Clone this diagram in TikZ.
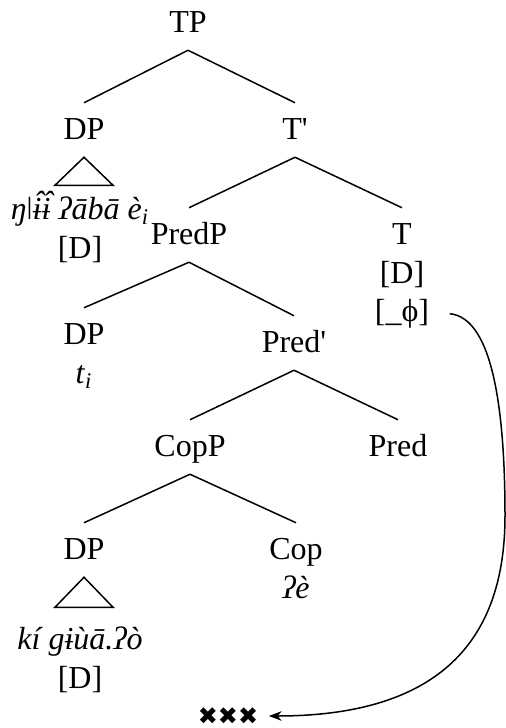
\documentclass[tikz,border=0pt]{standalone}
\usepackage{fontspec}
\setmainfont{Liberation Serif}
\newfontfamily\xfont{DejaVu Sans}
\usetikzlibrary{arrows.meta,positioning}

\begin{document}
\begin{tikzpicture}[x=0.5pt,y=-0.5pt,node distance=0pt,>=Stealth,line width=0.75pt]
    \tikzstyle{cat}=[font=\fontsize{16}{19}\selectfont,text height=12pt,text depth=2.5pt,inner xsep=1pt,inner ysep=6pt]
    \tikzstyle{feat}=[font=\fontsize{16}{19}\selectfont,text height=12pt,text depth=2.5pt,inner xsep=1pt,inner ysep=2pt]
    \useasboundingbox (0,0) rectangle (506,728);
    \node[cat] (tp) at (188,23) {TP};
    \node[cat] (dpa) at (84,130) {DP};
    \node[cat] (tbar) at (295,130) {T\textquotesingle};
    \node[cat] (predp) at (189,235) {PredP};
    \node[cat] (t) at (402,235) {T};
    \node[feat,below=-4pt of t] (td) {[D]};
    \node[feat,below=of td] (tphi) {[\_ϕ]};
    \node[cat] (dpb) at (84,335) {DP};
    \node[feat,below=-4pt of dpb] (trace) {\textit{t}\textsubscript{\textit{i}}};
    \node[cat] (predbar) at (294,343) {Pred\textquotesingle};
    \node[cat] (copp) at (190,447) {CopP};
    \node[cat] (pred) at (398,447) {Pred};
    \node[cat] (dpc) at (84,550) {DP};
    \node[cat] (cop) at (296,550) {Cop};
    \node[feat,below=-4pt of cop] (cope) {\textit{ʔè}};
    \node[feat] (subj) at (80,210) {\textit{ŋǀ\accent"02C6ɨ\accent"02C6ɨ ʔābā è}\textsubscript{\textit{i}}};
    \node[feat,below=of subj] (subjd) {[D]};
    \node[feat] (obj) at (80,640) {\textit{kí gɨùā.ʔò}};
    \node[feat,below=of obj] (objd) {[D]};
    \node[font=\xfont\fontsize{12}{14}\selectfont,inner sep=1pt] (xxx) at (228,716) {✖✖✖};
    % branches
    \draw (tp.south) -- (dpa.north);
    \draw (tp.south) -- (tbar.north);
    \draw (tbar.south) -- (predp.north);
    \draw (tbar.south) -- (t.north);
    \draw (predp.south) -- (dpb.north);
    \draw (predp.south) -- (predbar.north);
    \draw (predbar.south) -- (copp.north);
    \draw (predbar.south) -- (pred.north);
    \draw (copp.south) -- (dpc.north);
    \draw (copp.south) -- (cop.north);
    % triangles
    \draw (dpa.south) -- ++(-29,28) -- ++(58,0) -- cycle;
    \draw (dpc.south) -- ++(-29,30) -- ++(58,0) -- cycle;
    % agreement
    \coordinate (bend) at (505,516);
    \draw[->,shorten <=9pt,shorten >=4pt] (tphi.east) .. controls (495,318) and (505,420) .. (bend) .. controls (505,640) and (440,716) .. (xxx.east);
\end{tikzpicture}
\end{document}
